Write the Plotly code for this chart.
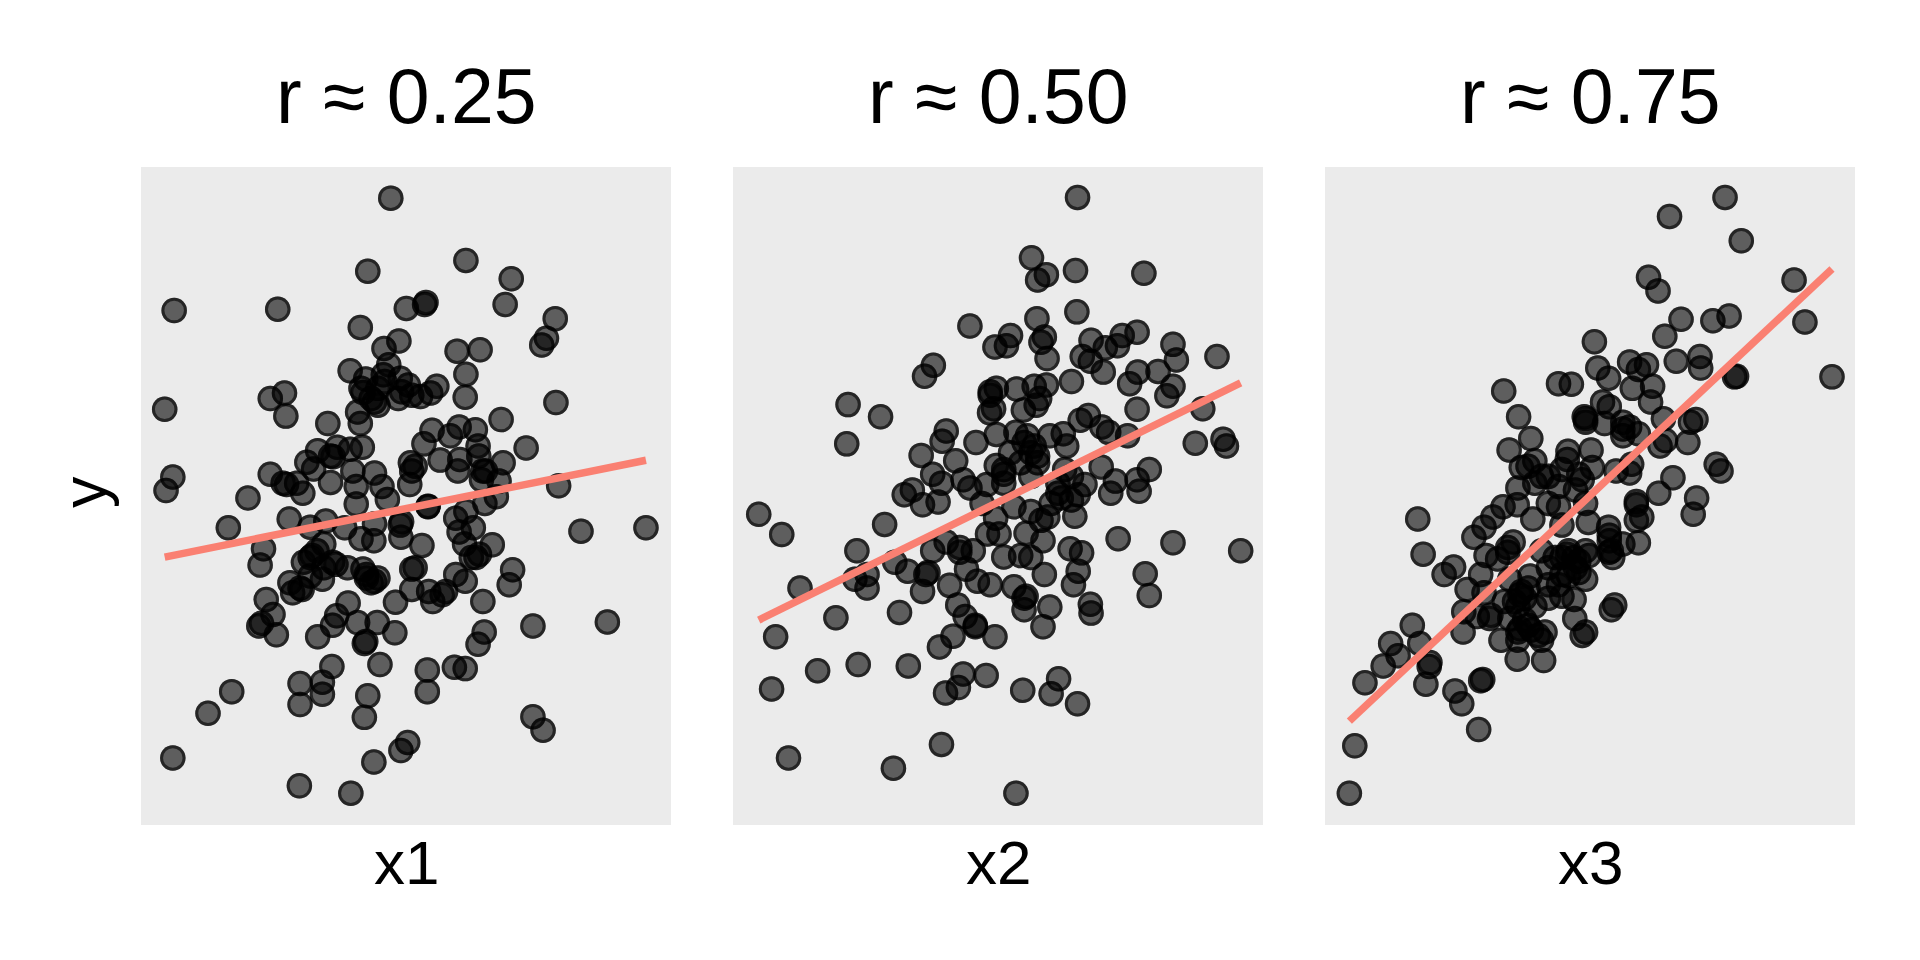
import numpy as np
import plotly.graph_objects as go

# ---- data (arbitrary units, no tick labels in the original) ----
titles = ["r ≈ 0.25", "r ≈ 0.50", "r ≈ 0.75"]
x_labels = ["x1", "x2", "x3"]
y_label = "y"

x1 = [36.9, 33.5, 48.0, 54.7, 4.9, 20.2, 39.2, 41.9, 42.1, 53.8, 61.2, 32.4, 59.9, 59.2, 38.1, 35.9,
      46.7, 50.1, 48.0, 47.9, 30.9, 36.6, 33.2, 35.8, 38.3, 39.5, 32.8, 35.0, 38.0, 40.0, 43.7, 42.8,
      41.3, 35.0, 32.0, 32.4, 34.0, 19.1, 21.2, 21.4, 3.5, 61.3, 53.2, 27.6, 56.9, 43.0, 45.7, 47.0,
      49.4, 41.8, 49.8, 49.9, 44.2, 47.1, 46.8, 53.5, 50.9, 52.9, 50.3, 39.8, 40.0, 39.7, 32.7, 29.0,
      30.9, 26.1, 28.4, 24.5, 25.5, 31.3, 34.5, 28.0, 31.8, 35.6, 19.1, 21.0, 23.0, 4.7, 3.7, 61.7,
      15.8, 23.9,
      31.8, 36.4, 42.4, 50.8, 52.5, 12.9, 21.9, 25.0, 27.3, 30.1, 32.5, 34.4, 34.5, 38.3, 38.4, 46.5,
      48.0, 47.0, 49.1, 47.8, 51.9, 65.0, 74.6, 18.1, 17.6, 27.0, 25.3, 24.0, 28.8, 30.5, 32.8, 34.5,
      33.3, 25.0, 26.8, 22.0, 23.8, 22.4, 41.5, 40.5, 40.0, 42.5, 43.1, 45.0, 46.5, 47.9, 49.5, 54.9,
      54.4, 50.5, 37.6, 18.5, 19.5, 17.4, 20.0, 30.6, 28.9, 28.3, 32.0, 34.9, 33.2, 37.5, 26.1, 57.9,
      68.9, 50.7, 49.8, 35.3, 28.2, 26.8, 23.5, 26.8, 23.5, 42.3, 42.3, 46.3, 47.9, 13.4, 9.9, 33.5,
      33.0, 57.9, 59.4, 39.4, 38.4, 34.4, 4.7, 23.4, 31.0,
      32.5, 34.5, 36.0, 38.5, 40.5, 28.0, 21.5, 50.5, 25.0, 27.0, 26.0, 33.3, 34.0, 35.0, 40.0, 44.5,
      48.8, 17.8, 33.0, 23.5, 28.3, 38.5, 42.4, 50.0]
y1 = [92.6, 81.8, 83.4, 80.7, 76.0, 76.2, 76.3, 76.9, 77.2, 76.9, 74.8, 73.5, 71.9, 70.9, 71.5, 70.4,
      70.0, 70.2, 66.6, 63.2, 67.1, 68.0, 65.9, 66.5, 66.0, 65.0, 63.9, 64.5, 63.0, 63.5, 64.8, 63.8,
      63.3, 62.0, 61.0, 59.3, 63.0, 63.0, 63.8, 60.4, 61.4, 62.4, 59.9, 59.3, 55.7, 58.3, 57.5, 58.8,
      58.4, 56.3, 56.0, 54.5, 53.9, 54.0, 52.3, 53.5, 52.3, 50.8, 51.0, 53.5, 52.3, 50.3, 55.8, 55.8,
      55.5, 55.3, 54.4, 53.6, 52.6, 52.3, 52.0, 50.6, 50.0, 50.0, 51.8, 50.5, 50.5, 51.4, 49.4, 50.1,
      48.3, 49.0,
      47.4, 48.1, 47.1, 47.5, 48.5, 43.9, 45.2, 44.0, 44.9, 43.9, 42.3, 42.0, 44.5, 44.3, 42.5, 45.3,
      46.3, 43.3, 43.9, 41.5, 41.4, 43.4, 43.9, 40.8, 38.4, 41.5, 39.8, 38.8, 38.5, 38.0, 37.8, 36.0,
      36.5, 36.8, 36.3, 35.8, 34.8, 34.3, 41.3, 38.0, 34.8, 34.5, 33.0, 34.5, 37.0, 36.0, 39.5, 37.7,
      35.5, 33.0, 32.9, 33.3, 31.1, 29.4, 28.1, 32.8, 30.9, 29.5, 29.9, 29.9, 27.1, 28.4, 27.8, 29.4,
      30.0, 28.5, 26.7, 23.7, 23.4, 21.1, 20.9, 19.3, 17.8, 22.9, 19.7, 23.3, 23.1, 19.7, 16.5, 19.1,
      15.9, 16.0, 14.0, 12.2, 11.0, 9.3, 9.9, 5.8, 4.7,
      64.5, 62.5, 65.5, 64.0, 53.0, 54.5, 50.3, 52.3, 39.5, 38.0, 40.5, 37.0, 35.8, 36.5, 37.8, 34.0,
      39.5, 29.8, 26.8, 35.0, 38.8, 44.8, 47.0, 40.0]

x2 = [50.9, 44.1, 46.3, 45.0, 50.6, 60.7, 50.8, 44.9, 35.0, 41.0, 38.7, 40.4, 46.0, 45.5, 46.4, 52.9,
      51.6, 52.8, 55.0, 56.8, 57.5, 59.7, 54.7, 65.0, 65.5, 71.5, 29.6, 28.3, 50.0, 59.8, 58.6, 62.8,
      65.0, 64.1, 17.0, 21.8, 16.8, 38.0, 38.9, 41.9, 44.5, 46.3, 37.9, 42.9, 44.8, 45.3, 59.7, 69.4,
      51.3, 52.5, 54.5, 58.3, 55.5, 31.5, 30.9, 35.9, 38.9, 41.8, 43.5, 46.8, 48.8, 49.3, 68.3, 72.4,
      72.9, 27.8, 32.9, 41.0, 44.0, 45.0, 38.9, 29.5, 30.8, 34.0, 35.0, 37.5, 40.0, 40.0, 44.0, 54.4,
      61.5, 56.5, 59.7, 60.0, 55.8, 52.0, 50.0, 48.0, 26.5, 25.3,
      3.8, 7.2, 22.4, 18.3, 28.0, 30.3, 36.8, 41.5, 44.0, 46.5, 50.5, 48.5, 51.0, 38.8, 37.6, 39.3,
      43.3, 45.8, 56.9, 65.0, 75.0, 31.5, 29.5, 33.5, 35.5, 40.0, 42.5, 44.0, 49.8, 51.5, 51.0, 50.3,
      46.0, 23.9, 25.8, 28.5, 28.0, 32.0, 34.5, 36.1, 38.0, 41.5, 43.3, 43.0, 46.8, 45.8, 60.9, 61.5,
      52.8, 52.9, 19.8, 18.0, 19.8, 9.9, 15.2, 24.6, 6.3, 33.2, 34.3, 35.8, 38.7, 32.5, 30.5, 12.5,
      18.5, 25.9, 5.7, 34.0, 37.4, 33.3, 31.4, 42.8, 48.1, 47.0, 50.9, 30.8, 8.2, 23.7, 41.8,
      43.0, 44.5, 42.5, 45.0, 38.0, 38.5, 49.0, 40.0, 48.0, 50.0, 47.0, 33.5, 28.8, 35.8, 43.0, 45.5]
y2 = [92.7, 83.8, 81.3, 80.5, 81.9, 81.5, 75.8, 74.8, 73.7, 72.3, 70.6, 70.8, 72.1, 71.3, 68.9, 71.6,
      69.2, 68.5, 70.5, 70.8, 72.3, 72.8, 66.9, 71.0, 68.7, 69.2, 67.9, 66.3, 65.5, 66.9, 65.2, 67.0,
      64.8, 63.4, 62.1, 60.3, 56.3, 64.0, 64.5, 64.4, 64.8, 65.0, 60.9, 61.3, 62.0, 63.0, 61.4, 61.5,
      59.8, 60.5, 58.8, 57.5, 58.0, 58.2, 56.7, 56.5, 57.7, 58.0, 57.5, 57.5, 57.8, 56.0, 56.4, 57.0,
      56.0, 54.6, 53.8, 55.0, 55.0, 53.5, 53.1, 51.8, 50.5, 51.0, 49.8, 50.3, 51.8, 50.5, 51.5, 52.9,
      52.5, 50.8, 51.0, 49.3, 49.0, 50.3, 51.5, 50.5, 49.5, 48.8,
      45.9, 42.9, 44.4, 40.5, 47.3, 47.7, 47.5, 47.0, 46.3, 45.5, 45.6, 48.3, 48.8, 45.3, 43.0, 43.0,
      43.1, 42.0, 42.3, 41.7, 40.5, 41.8, 40.5, 40.3, 40.5, 39.6, 39.8, 39.5, 40.8, 40.2, 37.5, 35.5,
      37.0, 38.8, 37.5, 37.0, 34.5, 35.4, 37.8, 36.0, 35.5, 35.2, 33.8, 31.8, 32.2, 29.3, 37.1, 33.9,
      32.6, 31.3, 37.0, 36.3, 35.0, 35.0, 30.6, 31.4, 27.8, 32.5, 30.8, 29.3, 27.8, 27.9, 26.3, 22.8,
      23.7, 23.5, 20.1, 22.3, 22.1, 20.3, 19.5, 19.9, 21.6, 19.4, 17.9, 11.9, 9.9, 8.4, 4.7,
      56.5, 56.0, 53.5, 54.5, 63.5, 61.5, 52.5, 52.5, 49.0, 48.0, 47.5, 41.0, 37.3, 29.5, 33.5, 45.0]

x3 = [59.1, 50.9, 61.5, 47.8, 49.2, 69.3, 52.6, 57.3, 59.7, 70.9, 50.2, 39.8, 51.9, 55.4, 55.5, 45.0,
      47.5, 46.3, 40.3, 41.9, 60.5, 60.8, 74.9, 34.5, 36.4, 26.4, 45.4, 48.4, 48.1, 41.0, 42.0, 28.6,
      38.3, 38.5, 41.3, 44.0, 45.0, 44.0, 46.3, 50.0, 54.8, 54.0, 53.6, 50.3, 49.5, 30.4, 27.2, 31.0,
      29.0, 28.5, 31.0, 35.9, 35.8, 39.3, 39.5, 37.5, 33.0, 34.5, 37.0, 43.0, 45.3, 45.0, 57.8, 58.5,
      51.4, 49.3, 54.9, 46.0,
      54.4, 46.0, 46.8, 46.0, 46.3, 44.0, 41.9, 42.0, 42.5, 42.0, 38.9, 38.5, 34.5, 33.0, 35.0, 30.7,
      28.4, 26.3, 24.8, 23.5, 22.0, 13.7, 14.5, 19.0, 17.6, 27.8, 27.0, 23.8, 25.5, 32.0, 33.0, 35.0,
      36.8, 38.5, 37.0, 38.5, 36.0, 34.5, 30.3, 27.3, 23.0, 21.0, 23.5, 26.5, 28.8, 30.0, 28.5, 31.0,
      33.0, 35.0, 36.8, 36.9, 42.8, 42.3, 38.5, 38.0, 20.5, 20.4, 22.5, 24.3, 27.3, 29.5, 28.8, 30.5,
      32.5, 32.0, 26.0, 28.5, 28.4, 32.3, 12.9, 9.7, 14.0, 10.8, 8.6, 15.4, 14.9, 5.9, 23.3, 23.0,
      19.2, 20.2, 22.7, 4.4, 3.6, 15.5, 35.8, 37.5, 29.5, 39.0,
      30.0, 32.0, 35.0, 38.0, 38.5, 44.0, 34.0, 36.0, 37.5, 35.0, 33.0, 29.0, 28.0, 30.0, 28.5, 31.5,
      42.0, 42.3, 27.0, 24.5]
y3 = [92.7, 89.9, 86.3, 80.9, 78.9, 80.5, 74.7, 74.5, 75.2, 74.3, 72.2, 71.4, 68.5, 69.2, 67.5, 68.4,
      68.0, 67.3, 67.5, 66.0, 66.2, 66.3, 66.2, 65.2, 65.1, 64.1, 64.5, 64.8, 62.5, 62.5, 61.8, 60.3,
      60.3, 59.5, 59.3, 59.5, 58.8, 57.5, 57.8, 60.0, 59.9, 59.5, 56.5, 56.8, 56.0, 57.1, 55.4, 53.8,
      52.8, 49.8, 50.5, 55.2, 54.0, 55.4, 52.8, 51.8, 51.5, 50.0, 49.5, 52.3, 53.3, 52.0, 53.3, 52.3,
      51.3, 49.0, 48.3, 47.8,
      45.9, 47.3, 45.5, 45.0, 41.7, 41.5, 44.0, 42.8, 39.5, 40.3, 44.7, 47.5, 47.0, 47.5, 44.3, 45.2,
      47.3, 47.0, 45.5, 44.0, 42.5, 45.2, 40.0, 38.1, 37.0, 41.8, 40.3, 39.8, 39.3, 40.5, 38.0, 39.5,
      39.5, 40.5, 38.0, 36.3, 36.8, 35.5, 36.8, 36.3, 37.0, 34.8, 34.3, 33.0, 34.0, 35.0, 32.3, 32.3,
      33.5, 33.8, 33.3, 30.5, 32.5, 31.8, 28.5, 28.0, 31.5, 28.5, 30.8, 30.5, 30.5, 30.3, 29.0, 28.8,
      28.5, 27.3, 27.3, 27.3, 24.5, 24.3, 29.5, 26.8, 26.8, 25.0, 23.5, 23.4, 20.8, 21.0, 21.5, 21.3,
      19.8, 17.9, 14.1, 11.7, 4.7, 24.0, 40.0, 37.3, 33.5, 39.8,
      53.0, 51.5, 52.5, 51.0, 60.0, 58.5, 39.5, 40.5, 39.0, 37.0, 35.5, 34.5, 33.0, 29.5, 28.5, 28.0,
      42.0, 40.5, 41.0, 31.0]

xs = [x1, x2, x3]
ys = [y1, y2, y3]

# ---- styling ----
FONT = "Liberation Sans, Arial, sans-serif"
PANEL_BG = "#EBEBEB"
LINE_COLOR = "#FA8072"
x_domains = [[141 / 1920, 671 / 1920], [733 / 1920, 1263 / 1920], [1325 / 1920, 1855 / 1920]]
y_domain = [1 - 825 / 960, 1 - 167 / 960]
x_range = [0, 78.3]
y_range = [0, 97.2]

fig = go.Figure()
for i in range(3):
    xa = "x" if i == 0 else f"x{i + 1}"
    ya = "y" if i == 0 else f"y{i + 1}"
    x = np.array(xs[i])
    y = np.array(ys[i])
    # filled discs
    fig.add_trace(go.Scatter(
        x=x, y=y, mode="markers", xaxis=xa, yaxis=ya, showlegend=False, hoverinfo="skip",
        marker=dict(size=25.5, color="rgba(0,0,0,0.6)", line=dict(width=0)),
    ))
    # darker rims (stroke drawn over the fill, as in the original)
    fig.add_trace(go.Scatter(
        x=x, y=y, mode="markers", xaxis=xa, yaxis=ya, showlegend=False, hoverinfo="skip",
        marker=dict(size=22.5, color="rgba(0,0,0,0)", line=dict(width=3, color="rgba(0,0,0,0.6)")),
    ))
    # least-squares line over the data range
    slope, intercept = np.polyfit(x, y, 1)
    lx = np.array([x.min(), x.max()])
    fig.add_trace(go.Scatter(
        x=lx, y=intercept + slope * lx, mode="lines", xaxis=xa, yaxis=ya, showlegend=False,
        hoverinfo="skip", line=dict(color=LINE_COLOR, width=7.5),
    ))

axis_common = dict(showgrid=False, zeroline=False, showticklabels=False, ticks="", showline=False,
                   fixedrange=True)
layout = dict(
    width=1920, height=960, paper_bgcolor="white", plot_bgcolor=PANEL_BG,
    margin=dict(l=0, r=0, t=0, b=0), showlegend=False,
    font=dict(family=FONT, color="black"),
)
for i in range(3):
    kx = "xaxis" if i == 0 else f"xaxis{i + 1}"
    ky = "yaxis" if i == 0 else f"yaxis{i + 1}"
    layout[kx] = dict(domain=x_domains[i], range=x_range, anchor="y" if i == 0 else f"y{i + 1}",
                      **axis_common)
    layout[ky] = dict(domain=y_domain, range=y_range, anchor="x" if i == 0 else f"x{i + 1}",
                      **axis_common)
fig.update_layout(**layout)

annotations = []
for i in range(3):
    cx = (x_domains[i][0] + x_domains[i][1]) / 2
    annotations.append(dict(text=titles[i], x=cx, y=1 - 96.4 / 960, xref="paper", yref="paper",
                            xanchor="center", yanchor="middle", showarrow=False,
                            font=dict(size=77, family=FONT, color="black")))
    annotations.append(dict(text=x_labels[i], x=cx, y=1 - 862 / 960, xref="paper", yref="paper",
                            xanchor="center", yanchor="middle", showarrow=False,
                            font=dict(size=62, family=FONT, color="black")))
annotations.append(dict(text=y_label, x=84 / 1920, y=1 - 492 / 960, xref="paper", yref="paper",
                        xanchor="center", yanchor="middle", showarrow=False, textangle=-90,
                        font=dict(size=63, family=FONT, color="black")))
fig.update_layout(annotations=annotations)

fig.write_html("out.html", config={"displayModeBar": False},
               post_script="document.body.style.margin='0';document.body.style.overflow='hidden';")
